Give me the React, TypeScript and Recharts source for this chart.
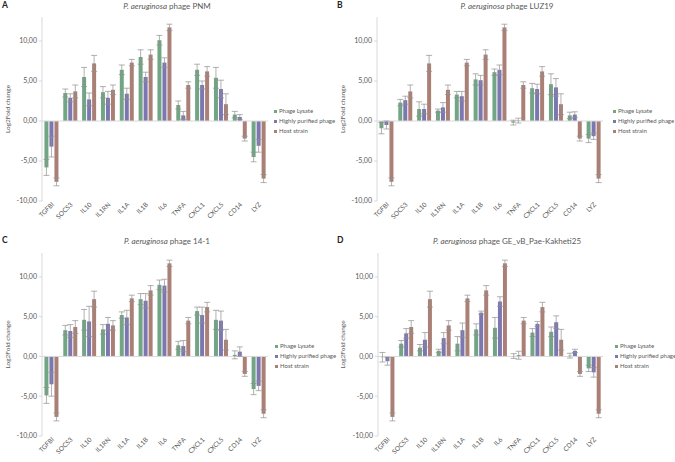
import React from 'react';
import { BarChart, Bar, XAxis, YAxis, ErrorBar, ReferenceLine } from 'recharts';

const categories = ['TGFBI', 'SOCS3', 'IL10', 'IL1RN', 'IL1A', 'IL1B', 'IL6', 'TNFA', 'CXCL1', 'CXCL5', 'CD14', 'LYZ'];
const yTicks = [-10, -5, 0, 5, 10];
const seriesNames = ['Phage Lysate', 'Highly purified phage', 'Host strain'];

// Host strain (same in all panels)
const hostStrain = [-7.6, 3.7, 7.2, 3.9, 7.3, 8.3, 11.7, 4.5, 6.2, 2.1, -2.2, -7.2];
const hostStrainErr = [0.5, 0.8, 1.0, 0.6, 0.4, 0.6, 0.4, 0.4, 0.6, 1.3, 0.3, 0.5];

// Panel A: PNM
const pnmLysate = [-5.8, 3.5, 5.5, 3.6, 6.4, 8.0, 10.1, 2.0, 6.4, 5.4, 0.8, -4.5];
const pnmLysateErr = [1.0, 0.5, 1.2, 0.7, 0.6, 0.9, 0.6, 0.5, 0.7, 1.3, 0.4, 0.6];
const pnmPurified = [-3.2, 2.9, 2.7, 2.9, 3.4, 5.5, 7.3, 0.7, 4.5, 4.0, 0.5, -3.1];
const pnmPurifiedErr = [1.3, 0.5, 0.8, 0.8, 0.7, 0.6, 0.6, 0.5, 0.5, 1.1, 0.3, 0.8];

// Panel B: LUZ19
const luzLysate = [-0.9, 2.3, 1.5, 1.3, 3.3, 5.2, 6.1, -0.2, 4.1, 4.6, 0.7, -2.2];
const luzLysateErr = [0.7, 0.4, 0.9, 0.2, 0.4, 0.7, 0.4, 0.3, 0.6, 1.3, 0.4, 0.5];
const luzPurified = [-0.5, 2.6, 1.5, 1.7, 3.1, 5.1, 6.4, 0.05, 4.0, 4.2, 0.8, -1.9];
const luzPurifiedErr = [0.5, 0.5, 0.6, 0.6, 0.6, 0.6, 0.6, 0.3, 0.6, 1.1, 0.35, 0.4];

// Panel C: 14-1
const p141Lysate = [-4.9, 3.3, 4.6, 3.4, 5.2, 7.2, 9.0, 1.4, 5.7, 4.6, 0.2, -4.1];
const p141LysateErr = [1.0, 0.6, 1.3, 0.6, 0.4, 0.7, 0.6, 0.5, 0.5, 1.2, 0.5, 0.7];
const p141Purified = [-3.5, 3.2, 4.4, 4.1, 4.9, 7.0, 8.9, 1.3, 5.2, 4.5, 0.6, -3.7];
const p141PurifiedErr = [1.5, 0.8, 1.9, 0.8, 0.9, 0.9, 0.8, 0.7, 1.0, 1.2, 0.6, 0.6];

// Panel D: GE_vB_Pae-Kakheti25
const kakLysate = [-0.1, 1.6, 1.1, 0.7, 1.6, 3.4, 3.6, 0.05, 3.0, 3.1, 0.1, -1.5];
const kakLysateErr = [0.6, 0.4, 0.4, 0.2, 0.9, 0.7, 1.3, 0.3, 0.5, 0.6, 0.3, 0.4];
const kakPurified = [-0.6, 2.9, 2.1, 2.3, 3.3, 5.5, 6.9, 0.15, 4.1, 4.3, 0.7, -2.0];
const kakPurifiedErr = [0.5, 0.6, 0.9, 0.7, 0.9, 0.2, 0.6, 0.5, 0.3, 0.8, 0.2, 0.6];

const COLORS = ['#72a584', '#7c77b0', '#aa8076'];
const TEXT = '#595959';
const FONT = 'Lato, "Open Sans", sans-serif';

function buildRows(l: number[], le: number[], p: number[], pe: number[]) {
  return categories.map((name, i) => ({
    name,
    l: l[i], le: le[i],
    p: p[i], pe: pe[i],
    h: hostStrain[i], he: hostStrainErr[i],
  }));
}

const XTick = (props: any) => {
  const { x, y, payload } = props;
  return (
    <text
      transform={`translate(${x + 3},${y + 1}) rotate(-45)`}
      textAnchor="end"
      fontSize={6.5}
      fill={TEXT}
      fontFamily={FONT}
    >
      {payload.value}
    </text>
  );
};

const fmt = (v: number) => v.toFixed(2).replace('.', ',');

type PanelProps = {
  left: number; top: number; width: number; height: number;
  mTop: number; yW: number; xH: number; mRight: number;
  letter: string; name: string;
  l: number[]; le: number[]; p: number[]; pe: number[];
  legendX: number; legendY: number;
  titleCx: number; titleY: number;
};

function Panel(props: PanelProps) {
  const { left, top, width, height, mTop, yW, xH, mRight, letter, name, l, le, p, pe, legendX, legendY, titleCx, titleY } = props;
  const data = buildRows(l, le, p, pe);
  const keys = [['l', 'le'], ['p', 'pe'], ['h', 'he']];
  return (
    <div style={{ position: 'absolute', left, top, width, height }}>
      <BarChart
        width={width}
        height={height}
        data={data}
        margin={{ top: mTop, right: mRight, bottom: 0, left: 0 }}
        barCategoryGap="13%"
        barGap={1}
      >
        <XAxis
          dataKey="name"
          height={xH}
          axisLine={false}
          tickLine={false}
          interval={0}
          tick={<XTick />}
          tickSize={0}
          tickMargin={3}
        />
        <YAxis
          width={yW}
          domain={[-10, 13]}
          ticks={yTicks}
          allowDataOverflow
          tickFormatter={fmt}
          stroke="#d9d9d9"
          tickSize={3}
          tickMargin={2}
          tick={{ fontSize: 7, fill: TEXT, fontFamily: FONT }}
          label={{ value: 'Log2Fold change', angle: -90, position: 'insideLeft', offset: 8, style: { fontSize: 6.5, fill: TEXT, fontFamily: FONT, textAnchor: 'middle' } }}
        />
        <ReferenceLine y={0} stroke="#d9d9d9" strokeWidth={1} />
        {keys.map(([k, e], i) => (
          <Bar key={k} dataKey={k} fill={COLORS[i]} isAnimationActive={false}>
            <ErrorBar dataKey={e} width={3} stroke="#8f8f8f" strokeWidth={0.7} direction="y" />
          </Bar>
        ))}
      </BarChart>
      <div style={{ position: 'absolute', left: 0, top: titleY - 5, width: titleCx * 2, textAlign: 'center', fontSize: 8, color: TEXT, fontFamily: FONT, whiteSpace: 'nowrap', lineHeight: '10px' }}>
        <i>P. aeruginosa</i> phage {name}
      </div>
      <div style={{ position: 'absolute', left: 2, top: titleY - 6, fontSize: 8.5, fontWeight: 700, color: '#222', fontFamily: FONT, lineHeight: '10px' }}>
        {letter}
      </div>
      <div style={{ position: 'absolute', left: legendX, top: legendY - 4, fontFamily: FONT, fontSize: 6, color: TEXT, lineHeight: '10px' }}>
        {seriesNames.map((s, i) => (
          <div key={s} style={{ display: 'flex', alignItems: 'center', whiteSpace: 'nowrap' }}>
            <span style={{ display: 'inline-block', width: 3, height: 3, background: COLORS[i], marginRight: 2 }} />
            {s}
          </div>
        ))}
      </div>
    </div>
  );
}

export default function App() {
  return (
    <div style={{ position: 'absolute', left: 0, top: 0, width: 675, height: 462, background: '#fff', overflow: 'hidden' }}>
      <Panel left={0} top={0} width={335} height={230} mTop={17} yW={42} xH={29} mRight={67}
        letter="A" name="PNM" l={pnmLysate} le={pnmLysateErr} p={pnmPurified} pe={pnmPurifiedErr}
        legendX={274} legendY={110} titleCx={167} titleY={6} />
      <Panel left={335} top={0} width={340} height={230} mTop={17} yW={42} xH={29} mRight={72}
        letter="B" name="LUZ19" l={luzLysate} le={luzLysateErr} p={luzPurified} pe={luzPurifiedErr}
        legendX={278} legendY={110} titleCx={172} titleY={6} />
      <Panel left={0} top={228} width={335} height={234} mTop={25} yW={42} xH={26} mRight={67}
        letter="C" name="14-1" l={p141Lysate} le={p141LysateErr} p={p141Purified} pe={p141PurifiedErr}
        legendX={275} legendY={117} titleCx={167} titleY={13} />
      <Panel left={335} top={228} width={340} height={234} mTop={25} yW={43} xH={26} mRight={72}
        letter="D" name="GE_vB_Pae-Kakheti25" l={kakLysate} le={kakLysateErr} p={kakPurified} pe={kakPurifiedErr}
        legendX={280} legendY={117} titleCx={172} titleY={13} />
    </div>
  );
}
